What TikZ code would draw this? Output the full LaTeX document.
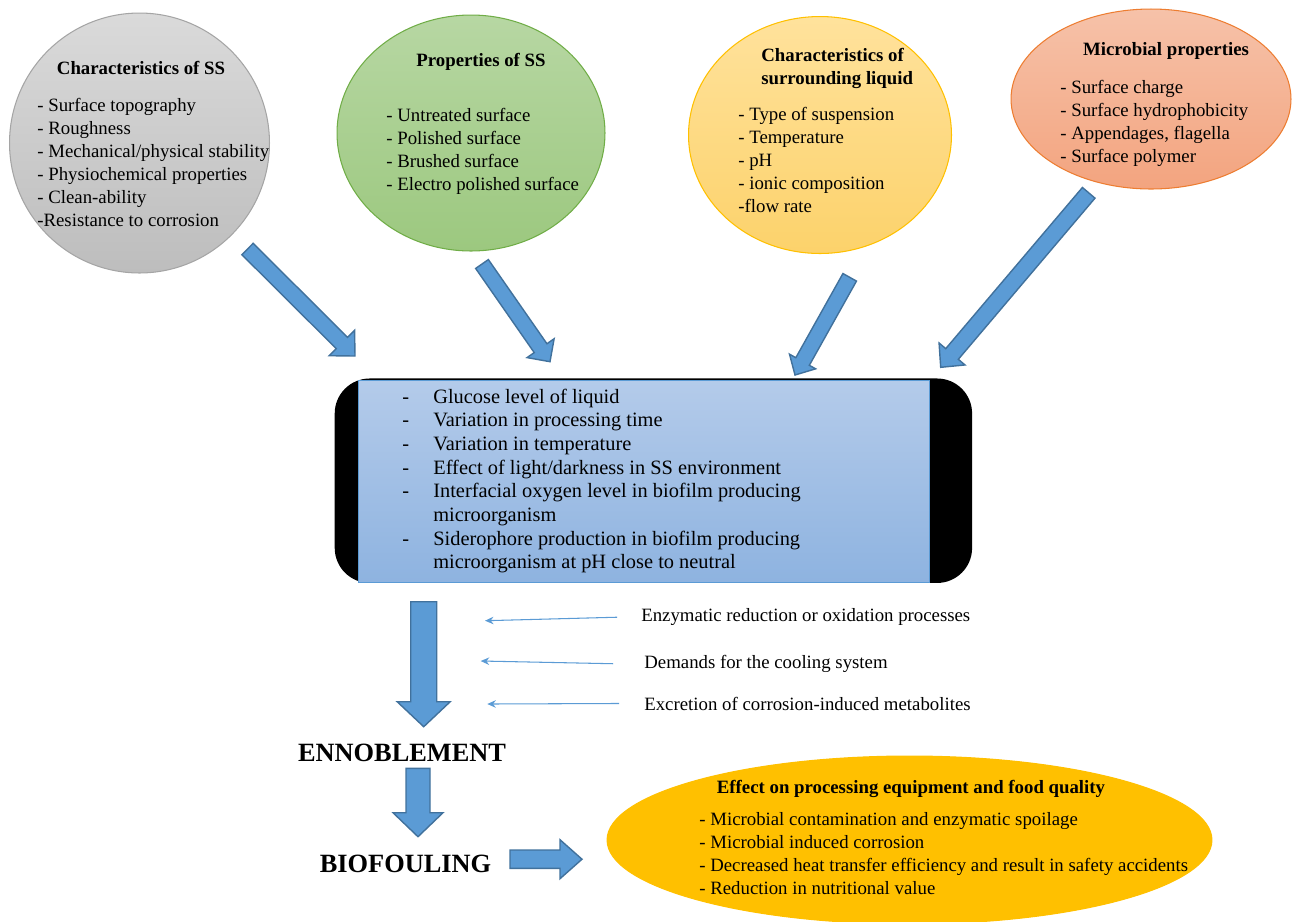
\documentclass[tikz,border=0pt]{standalone}
\usepackage{fontspec}
\setmainfont{Liberation Serif}
\usepackage{tikz}
\usepackage{xcolor}
\usetikzlibrary{shapes.geometric}
\usetikzlibrary{positioning}
\usetikzlibrary{calc}
\usetikzlibrary{arrows.meta}

\definecolor{greytop}{HTML}{DADADA}
\definecolor{greybot}{HTML}{BDBDBD}
\definecolor{greyline}{HTML}{A5A5A5}
\definecolor{greentop}{HTML}{B7D7A3}
\definecolor{greenbot}{HTML}{9CC87F}
\definecolor{greenline}{HTML}{70AD47}
\definecolor{yellowtop}{HTML}{FFE29C}
\definecolor{yellowbot}{HTML}{FCD26B}
\definecolor{yellowline}{HTML}{FFC000}
\definecolor{orangetop}{HTML}{F6C2A9}
\definecolor{orangebot}{HTML}{F3A47F}
\definecolor{orangeline}{HTML}{ED7D31}
\definecolor{boxtop}{HTML}{B4CBEA}
\definecolor{boxbot}{HTML}{8EB3E0}
\definecolor{arrowfill}{HTML}{5B9BD5}
\definecolor{arrowline}{HTML}{41719C}
\definecolor{effectfill}{HTML}{FFC000}

\tikzstyle{bubble} = [ellipse, line width=0.6pt, inner sep=0pt]
\tikzstyle{heading} = [font=\fontsize{10.7}{13.1}\selectfont\bfseries, inner sep=0pt, anchor=base]
\tikzstyle{itemlist} = [font=\fontsize{10.7}{13.1}\selectfont, inner sep=0pt, anchor=base west]
\tikzstyle{cause} = [font=\fontsize{10.7}{13.1}\selectfont, inner sep=0pt, anchor=base west]
\tikzstyle{bigword} = [font=\fontsize{15}{18}\selectfont\bfseries, inner sep=0pt, anchor=base]
\tikzstyle{blockarrow} = [fill=arrowfill, draw=arrowline, line width=0.8pt, line join=miter]
\tikzstyle{thinarrow} = [draw=arrowfill, line width=0.6pt, -{Stealth[length=0.17cm, width=0.15cm]}]

% block arrow: tail, tip, half shaft, half head, head length
\newcommand{\blockarr}[5]{%
  \coordinate (ba-h) at ($(#2)!#5!(#1)$);
  \draw[blockarrow] ($(#1)!#3!90:(#2)$) -- ($(ba-h)!#3!-90:(#1)$) -- ($(ba-h)!#4!-90:(#1)$)
    -- (#2) -- ($(ba-h)!#4!90:(#1)$) -- ($(ba-h)!#3!90:(#1)$) -- ($(#1)!#3!-90:(#2)$) -- cycle;
}

\begin{document}
\begin{tikzpicture}[x=0.02cm, y=-0.02cm]
    \useasboundingbox (0,0) rectangle (1294,921);

    % the four influences
    \node (char_ss) [bubble, top color=greytop, bottom color=greybot, draw=greyline, minimum width=5.2cm, minimum height=5.2cm] at (139.5,143) {};
    \node (prop_ss) [bubble, top color=greentop, bottom color=greenbot, draw=greenline, minimum width=5.36cm, minimum height=4.72cm] at (471,133) {};
    \node (liquid) [bubble, top color=yellowtop, bottom color=yellowbot, draw=yellowline, minimum width=5.26cm, minimum height=4.74cm] at (820,135) {};
    \node (microbe) [bubble, top color=orangetop, bottom color=orangebot, draw=orangeline, minimum width=5.6cm, minimum height=3.6cm] at (1151,99) {};

    \node (char_ss_head) [heading] at (141,74) {Characteristics of SS};
    \node (char_ss_list) [itemlist] at (37,111.7) {\begin{tabular}[t]{@{}l@{}}
        - Surface topography\\ - Roughness\\ - Mechanical/physical stability\\
        - Physiochemical properties\\ - Clean-ability\\ -Resistance to corrosion\end{tabular}};

    \node (prop_ss_head) [heading] at (481,66.7) {Properties of SS};
    \node (prop_ss_list) [itemlist] at (386,121.7) {\begin{tabular}[t]{@{}l@{}}
        - Untreated surface\\ - Polished surface\\ - Brushed surface\\ - Electro polished surface\end{tabular}};

    \node (liquid_head) [heading, anchor=base west] at (761,61.7) {\begin{tabular}[t]{@{}l@{}}Characteristics of\\ surrounding liquid\end{tabular}};
    \node (liquid_list) [itemlist] at (738,120.7) {\begin{tabular}[t]{@{}l@{}}
        - Type of suspension\\ - Temperature\\ - pH\\ - ionic composition\\ -flow rate\end{tabular}};

    \node (microbe_head) [heading] at (1166,55) {Microbial properties};
    \node (microbe_list) [itemlist] at (1060,93.3) {\begin{tabular}[t]{@{}l@{}}
        - Surface charge\\ - Surface hydrophobicity\\ - Appendages, flagella\\ - Surface polymer\end{tabular}};

    % central box
    \node (factors_bg) [rectangle, fill=black, rounded corners=0.7cm, minimum width=12.75cm, minimum height=4.09cm] at (653.4,480.7) {};
    \node (factors) [rectangle, top color=boxtop, bottom color=boxbot, draw=arrowfill, line width=0.5pt, minimum width=11.43cm, minimum height=4.04cm] at (643.75,481) {};
    \node (factors_list) [font=\fontsize{11.6}{13.45}\selectfont, inner sep=0pt, anchor=base west] at (402,403.3) {\begin{tabular}[t]{@{}p{0.62cm}@{}l@{}}
        - & Glucose level of liquid\\
        - & Variation in processing time\\
        - & Variation in temperature\\
        - & Effect of light/darkness in SS environment\\
        - & Interfacial oxygen level in biofilm producing\\
          & microorganism\\
        - & Siderophore production in biofilm producing\\
          & microorganism at pH close to neutral\end{tabular}};

    % arrows into the box
    \coordinate (a1_tail) at (247.5,249);  \coordinate (a1_tip) at (355,356);
    \coordinate (a2_tail) at (482,264);    \coordinate (a2_tip) at (550,361.7);
    \coordinate (a3_tail) at (849.7,277.3); \coordinate (a3_tip) at (795,375);
    \coordinate (a4_tail) at (1088.7,192.8); \coordinate (a4_tip) at (940.7,367.3);
    \blockarr{a1_tail}{a1_tip}{0.16cm}{0.36cm}{0.37cm}
    \blockarr{a2_tail}{a2_tip}{0.155cm}{0.33cm}{0.33cm}
    \blockarr{a3_tail}{a3_tip}{0.155cm}{0.3cm}{0.31cm}
    \blockarr{a4_tail}{a4_tip}{0.165cm}{0.34cm}{0.35cm}

    % side causes
    \node (enzyme) [cause] at (641,621.7) {Enzymatic reduction or oxidation processes};
    \node (cooling) [cause] at (644,668.3) {Demands for the cooling system};
    \node (metabol) [cause] at (644,710) {Excretion of corrosion-induced metabolites};
    \coordinate (enzyme_end) at (485,620.7);
    \coordinate (cooling_end) at (480.7,661);
    \coordinate (metabol_end) at (487.3,704);
    \draw [thinarrow] ([xshift=-0.48cm]enzyme.west) -- (enzyme_end);
    \draw [thinarrow] ([xshift=-0.62cm]cooling.west) -- (cooling_end);
    \draw [thinarrow] ([xshift=-0.5cm]metabol.west) -- (metabol_end);

    % outcome
    \node (ennoble) [bigword] at (402,761.7) {ENNOBLEMENT};
    \node (biofoul) [bigword] at (405.5,872.7) {BIOFOULING};
    \coordinate (down_tail) at (423.7,601.7);  \coordinate (down_tip) at (423.7,726.7);
    \coordinate (enn_tail) at (418,768.3);     \coordinate (enn_tip) at (418,836.7);
    \coordinate (bio_tail) at (510,859.2);     \coordinate (bio_tip) at (582,859.2);
    \blockarr{down_tail}{down_tip}{0.26cm}{0.53cm}{0.5cm}
    \blockarr{enn_tail}{enn_tip}{0.24cm}{0.5cm}{0.48cm}
    \blockarr{bio_tail}{bio_tip}{0.184cm}{0.39cm}{0.44cm}

    \node (effect) [bubble, fill=effectfill, draw=effectfill, minimum width=12.1cm, minimum height=3.36cm] at (909.5,840) {};
    \node (effect_head) [heading] at (911,793) {Effect on processing equipment and food quality};
    \node (effect_list) [itemlist] at (699,825) {\begin{tabular}[t]{@{}l@{}}
        - Microbial contamination and enzymatic spoilage\\ - Microbial induced corrosion\\
        - Decreased heat transfer efficiency and result in safety accidents\\
        - Reduction in nutritional value\end{tabular}};
\end{tikzpicture}
\end{document}
